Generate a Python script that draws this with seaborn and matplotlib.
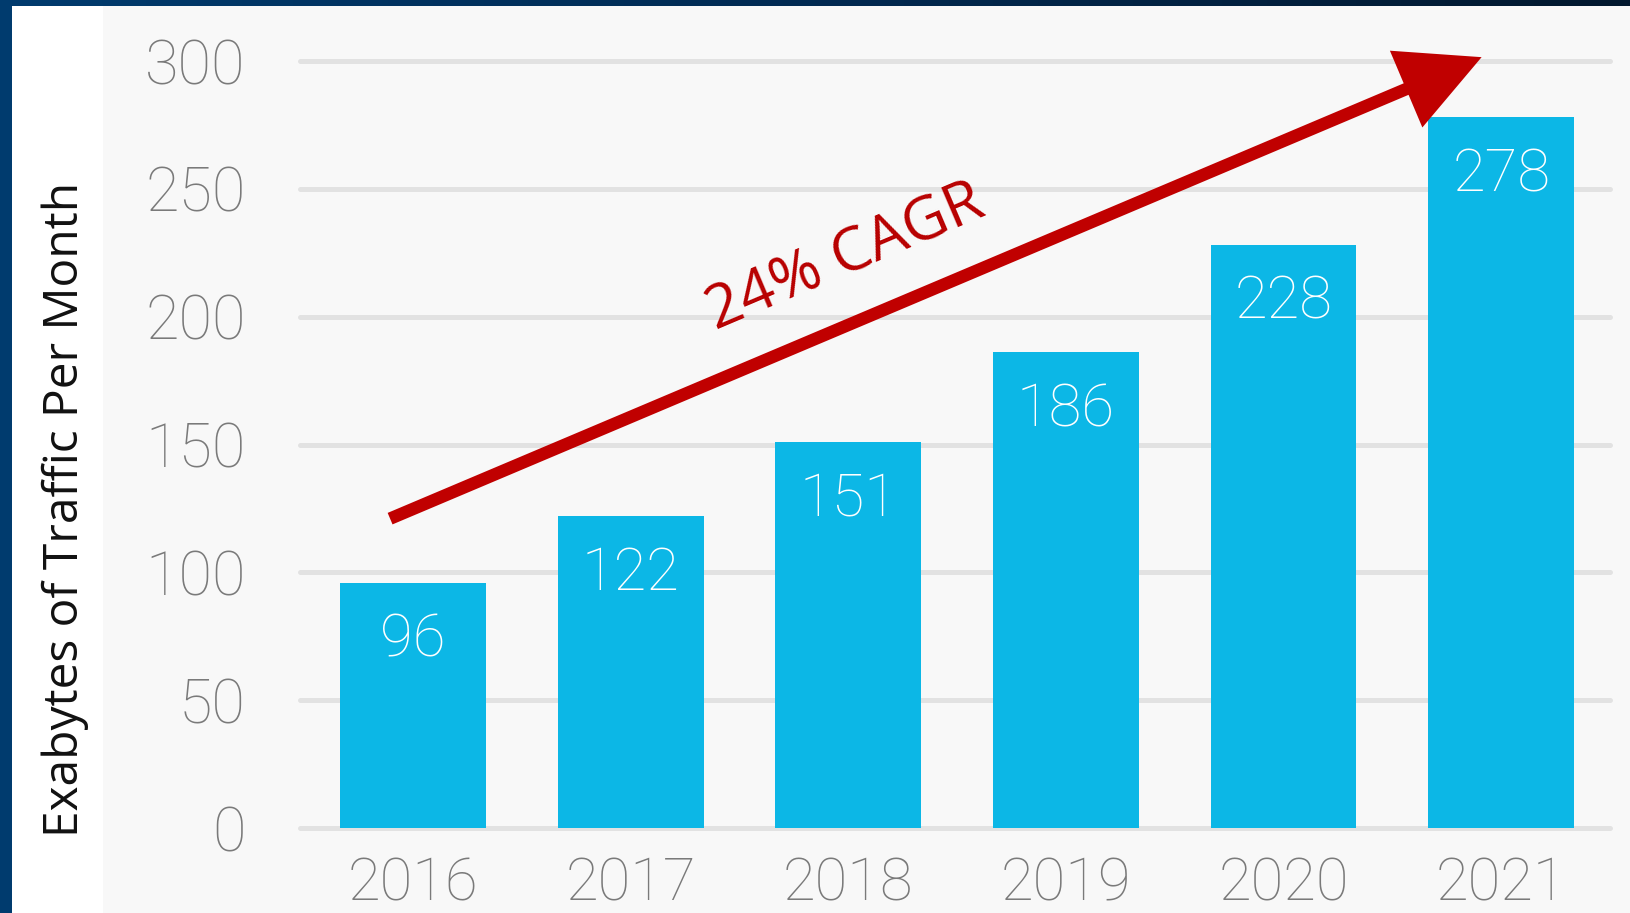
import numpy as np
import pandas as pd
import matplotlib
matplotlib.use("Agg")
import matplotlib.pyplot as plt
import seaborn as sns
from matplotlib.patches import Rectangle
from matplotlib.colors import LinearSegmentedColormap

years = ["2016", "2017", "2018", "2019", "2020", "2021"]
traffic = [96, 122, 151, 186, 228, 278]
yticks = [0, 50, 100, 150, 200, 250, 300]
ylabel = "Exabytes of Traffic Per Month"
cagr_label = "24% CAGR"

sns.set_theme(style="white")
plt.rcParams['font.family'] = ['Roboto', 'DejaVu Sans']

W, H = 1630, 913
fig = plt.figure(figsize=(W / 100, H / 100), dpi=100)
fig.patch.set_facecolor("white")

# backgrounds / frame
fig.patches.append(Rectangle((103 / W, 0), 1, 1, transform=fig.transFigure,
                             facecolor="#f8f8f8", edgecolor="none", zorder=-10))
grad = np.linspace(0, 1, 256).reshape(1, -1)
topax = fig.add_axes([0, 1 - 6 / H, 1, 6 / H])
cm = LinearSegmentedColormap.from_list("b", ["#003b6e", "#012a52", "#02182e"])
topax.imshow(grad, aspect="auto", cmap=cm, extent=[0, 1, 0, 1])
topax.axis("off")
fig.patches.append(Rectangle((0, 0), 12 / W, 1, transform=fig.transFigure,
                             facecolor="#003b6e", edgecolor="none", zorder=5))

ax = fig.add_axes([300 / W, 85 / H, 1310 / W, 767 / H])
ax.set_facecolor("none")
df = pd.DataFrame({"year": years, "traffic": traffic})
sns.barplot(data=df, x="year", y="traffic", color="#0cb7e6", saturation=1,
            width=0.67, ax=ax, zorder=3)
for p in ax.patches:
    p.set_edgecolor("none")

ax.set_xlim(-0.52, 5.5)
ax.set_ylim(0, 300)
ax.set_yticks(yticks)
ax.set_yticklabels([str(t) for t in yticks])
ax.grid(axis="y", color="#e2e2e2", linewidth=3.6, zorder=0)
ax.set_axisbelow(True)
for gl in ax.get_ygridlines():
    gl.set_clip_on(False)
for s in ax.spines.values():
    s.set_visible(False)
ax.tick_params(axis="both", length=0)
ax.tick_params(axis="y", pad=39, labelsize=44, labelcolor="#7a7a7a")
ax.tick_params(axis="x", pad=20, labelsize=43, labelcolor="#7a7a7a")
for lab in ax.get_xticklabels() + ax.get_yticklabels():
    lab.set_fontweight("light")
ax.set_xlabel("")
ax.set_ylabel("")

for i, v in enumerate(traffic):
    ax.text(i, v - 22.5, str(v), ha="center", va="center", color="white",
            fontsize=43, fontweight="light", zorder=4)

fig.text(65 / W, 1 - 509 / H, ylabel, rotation=90, ha="center", va="center",
         fontsize=34.5, color="#111111", family=["Open Sans", "DejaVu Sans"])

ax.annotate("", xy=(4.91, 301.5), xytext=(-0.106, 121),
            xycoords="data", textcoords="data",
            arrowprops=dict(arrowstyle="simple,tail_width=0.9,head_width=6.0,head_length=5.9",
                            mutation_scale=10, facecolor="#c00000",
                            edgecolor="none", lw=0,
                            shrinkA=0, shrinkB=0),
            annotation_clip=False, zorder=6)
ax.text(1.985, 223, cagr_label, rotation=23, ha="center", va="center",
        color="#b80000", fontsize=44, family=["Open Sans", "DejaVu Sans"],
        zorder=6, rotation_mode="anchor")

fig.savefig("out.png", dpi=100)
